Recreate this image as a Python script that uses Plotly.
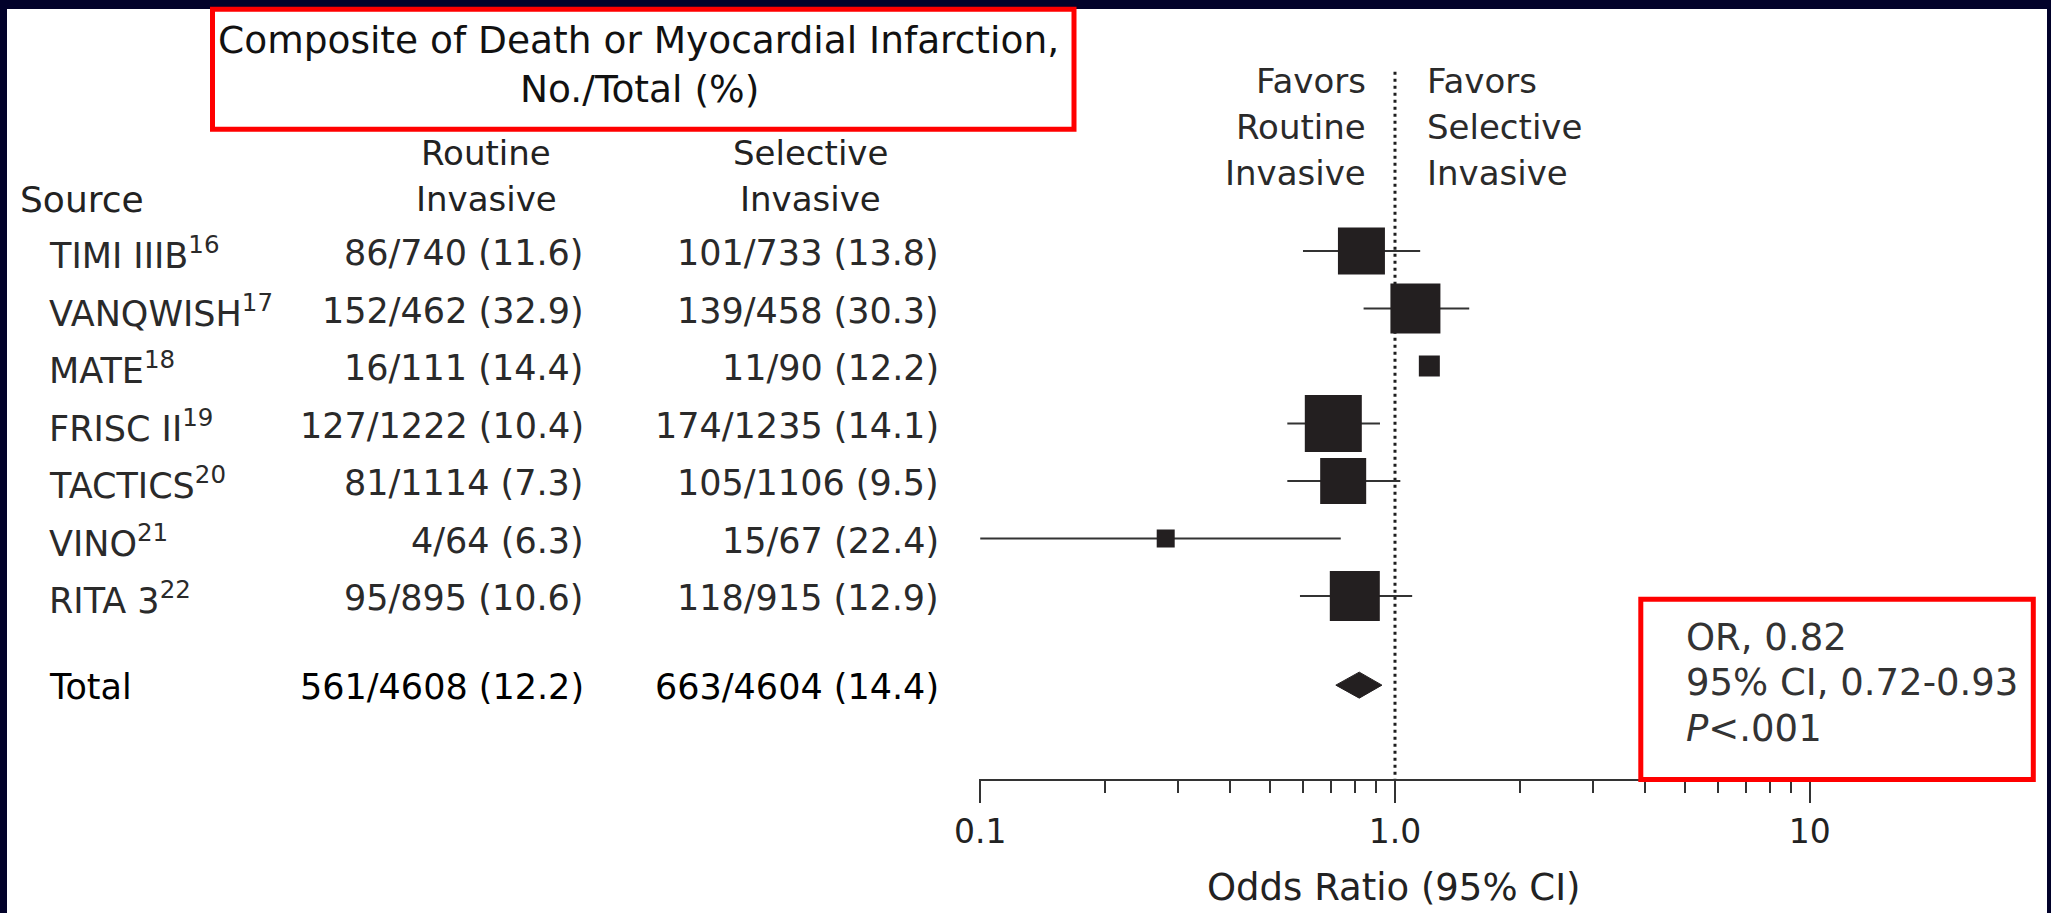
import plotly.graph_objects as go

# ---------------------------------------------------------------- data
studies = ["TIMI IIIB", "VANQWISH", "MATE", "FRISC II", "TACTICS", "VINO", "RITA 3"]
study_refs = ["16", "17", "18", "19", "20", "21", "22"]

routine_events = [86, 152, 16, 127, 81, 4, 95]
routine_total = [740, 462, 111, 1222, 1114, 64, 895]
routine_pct = [11.6, 32.9, 14.4, 10.4, 7.3, 6.3, 10.6]

selective_events = [101, 139, 11, 174, 105, 15, 118]
selective_total = [733, 458, 90, 1235, 1106, 67, 915]
selective_pct = [13.8, 30.3, 12.2, 14.1, 9.5, 22.4, 12.9]

odds_ratio = [0.83, 1.12, 1.21, 0.71, 0.75, 0.28, 0.80]
ci_low = [0.60, 0.84, None, 0.55, 0.55, 0.10, 0.59]
ci_high = [1.15, 1.51, None, 0.92, 1.03, 0.74, 1.10]

total_routine = (561, 4608, 12.2)
total_selective = (663, 4604, 14.4)
pooled_or, pooled_low, pooled_high = 0.82, 0.72, 0.93
p_value_text = "<.001"

tick_vals = [0.1, 1, 10]
tick_text = ["0.1", "1.0", "10"]
minor_tick_vals = [0.2, 0.3, 0.4, 0.5, 0.6, 0.7, 0.8, 0.9, 2, 3, 4, 5, 6, 7, 8, 9]

# ---------------------------------------------------------------- styling / geometry
W, H = 2051, 913
FONT = "DejaVu Sans"
INK = "#231f20"
NAVY = "#02022a"

box_px = [47, 50, 21, 57, 46, 18, 50]      # marker size per study (weight)

X_ONE_PX = 1395.0        # pixel of OR = 1
DECADE_PX = 414.75       # pixels per decade
AXIS_Y_PX = 779.3        # pixel row of the odds-ratio axis
TOP_PX = 60.0
ROW0_PX = 251.0
ROW_STEP_PX = 57.5
TOTAL_ROW = len(studies) + 0.55
X_RANGE = [-1.003, 1.003]


def xp(px):
    return px / W


def yp(py):
    return 1 - py / H


def row_of(py):
    return (py - ROW0_PX) / ROW_STEP_PX


fig = go.Figure()

# dotted reference line at OR = 1
fig.add_trace(go.Scatter(
    x=[1, 1], y=[row_of(71.7), row_of(AXIS_Y_PX)], mode="lines",
    line=dict(color="#1e1e1e", width=3, dash="3px,4px"),
    hoverinfo="skip", cliponaxis=False))

# confidence-interval whiskers
wx, wy = [], []
for i, (lo, hi) in enumerate(zip(ci_low, ci_high)):
    if lo is None or hi is None:
        continue
    wx += [lo, hi, None]
    wy += [i, i, None]
fig.add_trace(go.Scatter(
    x=wx, y=wy, mode="lines", line=dict(color="#333333", width=2.2),
    hoverinfo="skip", cliponaxis=False))

# study point estimates
fig.add_trace(go.Scatter(
    x=odds_ratio, y=list(range(len(studies))), mode="markers",
    marker=dict(symbol="square", size=box_px, color=INK, opacity=1, line=dict(width=0)),
    cliponaxis=False, hoverinfo="x"))

# pooled estimate diamond
half_h = 13 / ROW_STEP_PX
fig.add_trace(go.Scatter(
    x=[pooled_low, pooled_or, pooled_high, pooled_or, pooled_low],
    y=[TOTAL_ROW, TOTAL_ROW - half_h, TOTAL_ROW, TOTAL_ROW + half_h, TOTAL_ROW],
    mode="lines", fill="toself", fillcolor=INK,
    line=dict(color=INK, width=1), hoverinfo="skip", cliponaxis=False))

annotations = []


def label(text, x_px, y, anchor="left", size=35, color=INK, yref="paper", yshift=0):
    annotations.append(dict(
        text=text, x=xp(x_px), xref="paper", y=y, yref=yref,
        xanchor=anchor, yanchor="middle", showarrow=False, yshift=yshift,
        borderpad=0, font=dict(family=FONT, size=size, color=color)))


# heading block
label("Composite of Death or Myocardial Infarction,", 638, yp(40), "center", 37.5, "#111111")
label("No./Total (%)", 639, yp(88.5), "center", 37.5, "#111111")
label("Routine", 486, yp(153), "center", 34, "#222222")
label("Invasive", 486, yp(199.5), "center", 34, "#222222")
label("Selective", 810, yp(153), "center", 34, "#222222")
label("Invasive", 810, yp(199.5), "center", 34, "#222222")
label("Source", 19, yp(199.5), "left", 36, "#222222")

# favors captions on both sides of OR = 1
for text, cy in zip(["Favors", "Routine", "Invasive"], [80.8, 127.2, 173.3]):
    label(text, 1367, yp(cy), "right", 34, "#2a2a2a")
for text, cy in zip(["Favors", "Selective", "Invasive"], [80.8, 127.2, 173.3]):
    label(text, 1426, yp(cy), "left", 34, "#2a2a2a")

# study rows
for i, name in enumerate(studies):
    label(f"{name}<sup>{study_refs[i]}</sup>", 48, i, "left", 35, "#2a2a2a", "y", -2)
    label(f"{routine_events[i]}/{routine_total[i]} ({routine_pct[i]:.1f})", 585, i,
          "right", 35, "#2a2a2a", "y", -2)
    label(f"{selective_events[i]}/{selective_total[i]} ({selective_pct[i]:.1f})", 940, i,
          "right", 35, "#2a2a2a", "y", -2)

label("Total", 48, TOTAL_ROW, "left", 35, "#000000", "y", -2)
label(f"{total_routine[0]}/{total_routine[1]} ({total_routine[2]:.1f})", 585, TOTAL_ROW,
      "right", 35, "#000000", "y", -2)
label(f"{total_selective[0]}/{total_selective[1]} ({total_selective[2]:.1f})", 940, TOTAL_ROW,
      "right", 35, "#000000", "y", -2)

# axis caption
label("Odds Ratio (95% CI)", 1394, yp(887), "center", 37, "#222222")

# pooled summary
label(f"OR, {pooled_or:.2f}", 1685, yp(637), "left", 37, "#333333")
label(f"95% CI, {pooled_low:.2f}-{pooled_high:.2f}", 1685, yp(682), "left", 37, "#333333")
label("<i>P</i>" + p_value_text.replace("<", "&lt;"), 1685, yp(728), "left", 37, "#333333")

shapes = [
    # white slide panel
    dict(type="rect", xref="paper", yref="paper", x0=xp(7), x1=xp(2047),
         y0=0, y1=yp(9), fillcolor="white", line=dict(width=0), layer="below"),
    # highlight frames
    dict(type="rect", xref="paper", yref="paper", x0=xp(212.5), x1=xp(1074),
         y0=yp(129.2), y1=yp(9.2), line=dict(color="#ff0000", width=5),
         fillcolor="rgba(0,0,0,0)", layer="above"),
    dict(type="rect", xref="paper", yref="paper", x0=xp(1640.8), x1=xp(2033.3),
         y0=yp(779.5), y1=yp(599.2), line=dict(color="#ff0000", width=5),
         fillcolor="rgba(0,0,0,0)", layer="above"),
]

fig.update_layout(
    width=W, height=H, margin=dict(l=0, r=0, t=0, b=0, pad=0),
    paper_bgcolor=NAVY, plot_bgcolor="rgba(0,0,0,0)", showlegend=False,
    annotations=annotations, shapes=shapes,
    xaxis=dict(
        type="log", range=X_RANGE,
        domain=[xp(X_ONE_PX + DECADE_PX * X_RANGE[0]), xp(X_ONE_PX + DECADE_PX * X_RANGE[1])],
        showline=True, linecolor="#333333", linewidth=2, mirror=False,
        ticks="outside", ticklen=22, tickwidth=2, tickcolor="#333333",
        tickvals=tick_vals, ticktext=tick_text,
        tickfont=dict(family=FONT, size=33, color="#222222"),
        minor=dict(tickvals=minor_tick_vals, ticks="outside", ticklen=12,
                   tickwidth=2, tickcolor="#333333", showgrid=False),
        showgrid=False, zeroline=False, fixedrange=True, automargin=False),
    yaxis=dict(
        range=[row_of(AXIS_Y_PX), row_of(TOP_PX)], domain=[yp(AXIS_Y_PX), yp(TOP_PX)],
        visible=False, showgrid=False, zeroline=False, fixedrange=True, automargin=False),
)

fig.write_html("out.html")
